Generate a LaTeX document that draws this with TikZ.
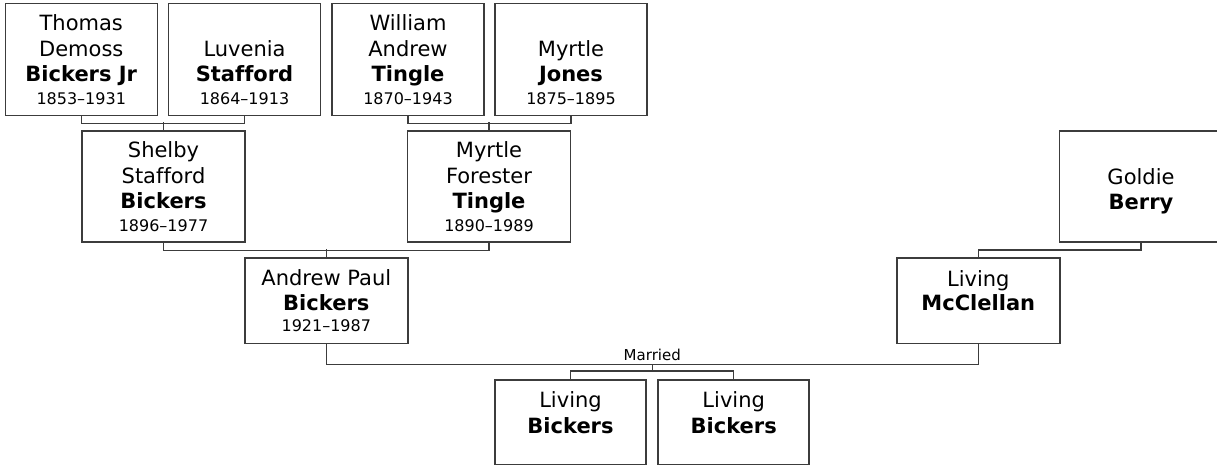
\documentclass[tikz,border=0pt]{standalone}
\usepackage{fontspec}
\setmainfont{DejaVu Sans}[Ligatures=NoCommon]
\usetikzlibrary{calc}
\definecolor{linec}{RGB}{60,60,60}
\tikzset{
  box/.style={draw=linec, line width=1.5pt, rectangle, inner sep=0pt, fill=white},
  rowa/.style={box, minimum width=152pt, minimum height=111.8pt},
  rowb/.style={box, minimum width=163pt, minimum height=111pt},
  rowc/.style={box, minimum width=163pt, minimum height=85.3pt},
  rowd/.style={box, minimum width=151pt, minimum height=84.3pt},
  conn/.style={draw=linec, line width=1.5pt},
  nm/.style={anchor=base, inner sep=0pt, font=\fontsize{21}{25}\selectfont},
  sn/.style={anchor=base, inner sep=0pt, font=\fontsize{21}{25}\selectfont\bfseries},
  dt/.style={anchor=base, inner sep=0pt, font=\fontsize{16}{19}\selectfont},
  mlabel/.style={anchor=base, inner sep=0pt, font=\fontsize{15}{18}\selectfont}
}
\begin{document}
\begin{tikzpicture}[x=1pt, y=-1pt]
\useasboundingbox (0,0) rectangle (1217,466);
\clip (0,0) rectangle (1217,466);
% boxes
\node[rowa] (thomas) at (81.25,59.4) {};
\node[rowa] (luvenia) at (244.5,59.4) {};
\node[rowa] (william) at (408,59.4) {};
\node[rowa] (myrtlej) at (571,59.4) {};
\node[rowb] (shelby) at (163.5,186.5) {};
\node[rowb] (myrtlef) at (489,186.5) {};
\node[rowb] (goldie) at (1141,186.5) {};
\node[rowc] (andrew) at (326.3,300.6) {};
\node[rowc] (mcclellan) at (978.3,300.6) {};
\node[rowd] (childa) at (570.5,422.2) {};
\node[rowd] (childb) at (733.7,422.2) {};

% connectors
\draw[conn] (thomas.south) -- ++(0,7.4) -| (luvenia.south);
\draw[conn] (shelby.north) -- ++(0,-8.3);
\draw[conn] (william.south) -- ++(0,7.4) -| (myrtlej.south);
\draw[conn] (myrtlef.north) -- ++(0,-8.3);
\draw[conn] (shelby.south) -- ++(0,7.5) -| (myrtlef.south);
\draw[conn] (andrew.north) -- ++(0,-8.5);
\draw[conn] (goldie.south) -- ++(0,7.3) -| (mcclellan.north);
\draw[conn] (andrew.south) -- ++(0,20.7) -| (mcclellan.south);
\coordinate (mid) at ($(andrew.south)!0.5!(mcclellan.south)$);
\coordinate (mbar) at ($(mid)+(0,20.7)$);
\node[mlabel] (married) at ([yshift=-16pt]mid) {Married};
\draw[conn] (mbar) -- ++(0,7.7);
\draw[conn] (childa.north) -- ++(0,-8.3) -| (childb.north);

% texts
\node[nm] (thomas1) at ([yshift=-28.2pt]thomas.north) {Thomas};
\node[nm] (thomas2) at ([yshift=-53.8pt]thomas.north) {Demoss};
\node[sn] (thomas3) at ([yshift=-78.5pt]thomas.north) {Bickers Jr};
\node[dt] (thomas4) at ([yshift=-101.8pt]thomas.north) {1853–1931};

\node[nm] (luvenia1) at ([yshift=-53.8pt]luvenia.north) {Luvenia};
\node[sn] (luvenia2) at ([yshift=-78.5pt]luvenia.north) {Stafford};
\node[dt] (luvenia3) at ([yshift=-101.8pt]luvenia.north) {1864–1913};

\node[nm] (william1) at ([yshift=-28.2pt]william.north) {William};
\node[nm] (william2) at ([yshift=-53.8pt]william.north) {Andrew};
\node[sn] (william3) at ([yshift=-78.5pt]william.north) {Tingle};
\node[dt] (william4) at ([yshift=-101.8pt]william.north) {1870–1943};

\node[nm] (myrtlej1) at ([yshift=-53.8pt]myrtlej.north) {Myrtle};
\node[sn] (myrtlej2) at ([yshift=-78.5pt]myrtlej.north) {Jones};
\node[dt] (myrtlej3) at ([yshift=-101.8pt]myrtlej.north) {1875–1895};

\node[nm] (shelby1) at ([yshift=-27.5pt]shelby.north) {Shelby};
\node[nm] (shelby2) at ([yshift=-53.3pt]shelby.north) {Stafford};
\node[sn] (shelby3) at ([yshift=-78.3pt]shelby.north) {Bickers};
\node[dt] (shelby4) at ([yshift=-101.3pt]shelby.north) {1896–1977};

\node[nm] (myrtlef1) at ([yshift=-27.5pt]myrtlef.north) {Myrtle};
\node[nm] (myrtlef2) at ([yshift=-53.3pt]myrtlef.north) {Forester};
\node[sn] (myrtlef3) at ([yshift=-78.3pt]myrtlef.north) {Tingle};
\node[dt] (myrtlef4) at ([yshift=-101.3pt]myrtlef.north) {1890–1989};

\node[nm] (goldie1) at ([yshift=-54pt]goldie.north) {Goldie};
\node[sn] (goldie2) at ([yshift=-79.5pt]goldie.north) {Berry};

\node[nm] (andrew1) at ([yshift=-28.7pt]andrew.north) {Andrew Paul};
\node[sn] (andrew2) at ([yshift=-53.7pt]andrew.north) {Bickers};
\node[dt] (andrew3) at ([yshift=-74.3pt]andrew.north) {1921–1987};

\node[nm] (mcclellan1) at ([yshift=-28.9pt]mcclellan.north) {Living};
\node[sn] (mcclellan2) at ([yshift=-53.3pt]mcclellan.north) {McClellan};

\node[nm] (childa1) at ([yshift=-28.5pt]childa.north) {Living};
\node[sn] (childa2) at ([yshift=-54pt]childa.north) {Bickers};
\node[nm] (childb1) at ([yshift=-28.5pt]childb.north) {Living};
\node[sn] (childb2) at ([yshift=-54pt]childb.north) {Bickers};
\end{tikzpicture}
\end{document}
